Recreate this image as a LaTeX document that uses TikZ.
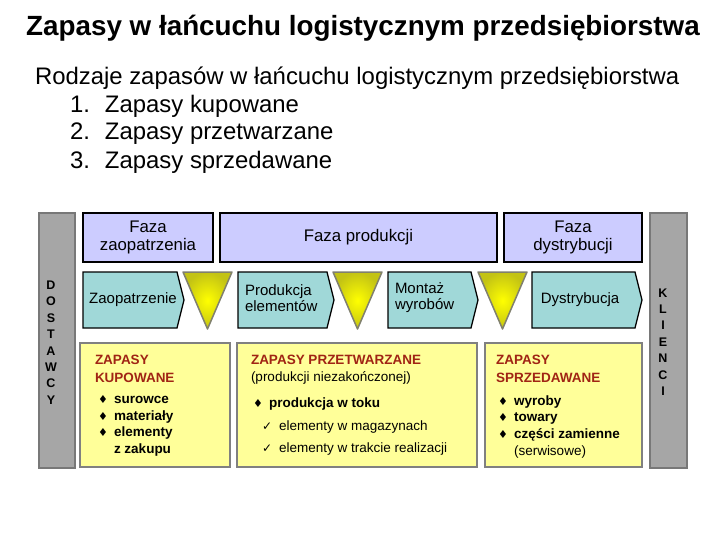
\documentclass[tikz,border=0pt]{standalone}
\usepackage{fontspec}
\setmainfont{Liberation Sans}
\newfontfamily\symbfont{DejaVu Sans}
\usetikzlibrary{positioning}
\definecolor{fazafill}{RGB}{204,204,255}
\definecolor{barfill}{RGB}{166,166,166}
\definecolor{bardraw}{RGB}{120,120,120}
\definecolor{chevfill}{RGB}{160,216,216}
\definecolor{zapfill}{RGB}{255,255,153}
\definecolor{zapdraw}{RGB}{128,128,128}
\definecolor{zapred}{RGB}{160,36,20}
\definecolor{trioliv}{RGB}{195,195,20}
\definecolor{triedge}{RGB}{128,128,110}
\newcommand\bul{\makebox[16pt][l]{\symbfont\fontsize{11}{11}\selectfont ♦}}
\newcommand\chk{\makebox[17pt][l]{\symbfont\fontsize{12}{12}\selectfont ✓}}

\begin{document}
\begin{tikzpicture}[x=1pt,y=-1pt,
  every node/.style={inner sep=0pt,outer sep=0pt},
  fazabox/.style={draw=black,line width=1.3pt,fill=fazafill,minimum height=49pt,align=center,font=\fontsize{16.8}{18}\selectfont},
  barbox/.style={draw=bardraw,line width=2pt,fill=barfill,minimum height=255pt},
  barletters/.style={align=center,font=\fontsize{12.5}{16.4}\selectfont\bfseries},
  chevron/.style={draw=black,line width=1.3pt,fill=chevfill},
  chevlabel/.style={align=left,font=\fontsize{15}{16}\selectfont},
  zapbox/.style={draw=zapdraw,line width=1.3pt,fill=zapfill,minimum height=124pt},
  zaphead/.style={anchor=north west,align=left,text=zapred,font=\fontsize{13.5}{17.5}\selectfont\bfseries},
  zaplist/.style={anchor=north west,align=left,font=\fontsize{13.5}{16.7}\selectfont\bfseries}
]
\useasboundingbox (0,0) rectangle (720,540);
% title and list
\node[font=\fontsize{27.8}{32}\selectfont\bfseries] (title) at (363,28) {Zapasy w łańcuchu logistycznym przedsiębiorstwa};
\node[anchor=west,font=\fontsize{23.9}{28}\selectfont] (rodzaje) at (35,78) {Rodzaje zapasów w łańcuchu logistycznym przedsiębiorstwa};
\foreach \n/\t [count=\i] in {1/kupowane,2/przetwarzane,3/sprzedawane} {
  \node[anchor=west,font=\fontsize{23.9}{28}\selectfont] (item\i) at (70,78+28*\i) {\makebox[35pt][l]{\n.}Zapasy \t};
}
% suppliers and clients
\node[barbox,minimum width=36pt] (dostawcy) at (57,340.5) {};
\node[barletters] (dostlbl) at (51,342.5) {D\\O\\S\\T\\A\\W\\C\\Y};
\node[barbox,minimum width=37pt] (klienci) at (668.5,340.5) {};
\node[barletters] (klilbl) at (663,342) {K\\L\\I\\E\\N\\C\\I};
% phases
\node[fazabox,minimum width=130pt] (fzaop) at (148,237.5) {Faza\\zaopatrzenia};
\node[fazabox,minimum width=277pt] (fprod) at (358.5,237.5) {Faza produkcji};
\node[fazabox,minimum width=138pt] (fdystr) at (573,237.5) {Faza\\dystrybucji};
% process steps
\foreach \xa/\xb in {83/177,238/327,388/471,532/635} {
  \draw[chevron] (\xa,272) -- (\xb,272) -- (\xb+7,300) -- (\xb,328) -- (\xa,328) -- cycle;
}
% stock triangles
\foreach \xa in {183,333,478} {
  \shade[inner color=yellow,outer color=trioliv] (\xa,272) -- (\xa+49,272) -- (\xa+24.5,329) -- cycle;
  \draw[triedge,line width=1.5pt,line join=round] (\xa,272) -- (\xa+49,272) -- (\xa+24.5,329) -- cycle;
}
\node[chevlabel] (zaop) at (133,300) {Zaopatrzenie};
\node[chevlabel,anchor=west] (prodel) at (245,298) {Produkcja\\elementów};
\node[chevlabel,anchor=west] (montaz) at (395,298) {Montaż\\wyrobów};
\node[chevlabel] (dystr) at (580,300) {Dystrybucja};
% kinds of stock
\node[zapbox,minimum width=150pt] (kupow) at (155,405) {};
\node[zapbox,minimum width=240pt] (przetw) at (357,405) {};
\node[zapbox,minimum width=157pt] (sprzed) at (563.5,405) {};
\node[zaphead] (kuphead) at (95,355.5) {ZAPASY\\KUPOWANE};
\node[zaplist] (kuplist) at (98,395.5) {\bul surowce\\\bul materiały\\\bul elementy\\\hspace*{16pt}z zakupu};
\node[zaphead] (przhead) at (251,355.5) {ZAPASY PRZETWARZANE};
\node[anchor=north west,font=\fontsize{13.5}{15}\selectfont] (przsub) at (251,371.5) {(produkcji niezakończonej)};
\node[zaplist] (przlist) at (253,398) {\bul produkcja w toku};
\node[anchor=north west,align=left,font=\fontsize{13.5}{22}\selectfont] (przchk) at (262,420.5) {\chk elementy w magazynach\\\chk elementy w trakcie realizacji};
\node[zaphead] (sprhead) at (496,355.5) {ZAPASY\\SPRZEDAWANE};
\node[zaplist] (sprlist) at (498,395.5) {\bul wyroby\\\bul towary\\\bul części zamienne\\\hspace*{16pt}\mdseries(serwisowe)};
\end{tikzpicture}
\end{document}
